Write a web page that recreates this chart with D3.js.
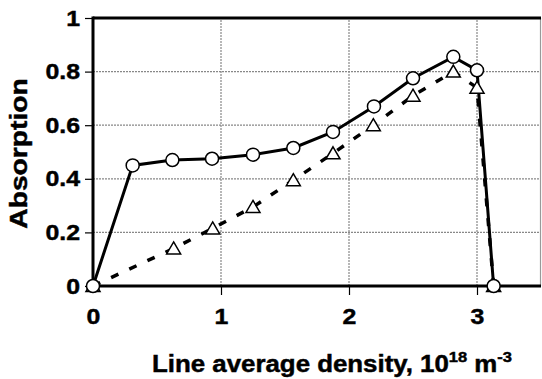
<!DOCTYPE html>
<html>
<head>
<meta charset="utf-8">
<script src="https://cdn.jsdelivr.net/npm/d3@7"></script>
<style>
  html, body { margin: 0; padding: 0; background: #fff; }
  svg { display: block; }
  text { font-family: "Liberation Sans", Arial, sans-serif; font-weight: bold; fill: #000; stroke: #000; stroke-width: 0.45px; }
</style>
</head>
<body>
<svg id="chart" width="542" height="379"></svg>
<script>
// Absorption versus line average density (two measurement series)
const densityCircle    = [0, 0.31, 0.62, 0.93, 1.25, 1.565, 1.875, 2.195, 2.5, 2.815, 3.0, 3.13];
const absorptionCircle = [0, 0.45, 0.47, 0.475, 0.49, 0.515, 0.575, 0.67, 0.775, 0.855, 0.805, 0];

const densityTriangle    = [0, 0.63, 0.935, 1.25, 1.565, 1.875, 2.19, 2.5, 2.815, 3.0, 3.13];
const absorptionTriangle = [0, 0.14, 0.215, 0.295, 0.395, 0.495, 0.6, 0.71, 0.8, 0.74, 0];

const xTicks = [0, 1, 2, 3];
const yTicks = [0, 0.2, 0.4, 0.6, 0.8, 1];
const yTickLabels = ["0", "0.2", "0.4", "0.6", "0.8", "1"];

const W = 542, H = 379;
const margin = { top: 18, right: 1, bottom: 93, left: 93 };
const labelStretch = 1.13;

const svg = d3.select("#chart");
const x = d3.scaleLinear().domain([0, 3.5]).range([margin.left, W - margin.right]);
const y = d3.scaleLinear().domain([0, 1]).range([H - margin.bottom, margin.top]);

// grid
const grid = svg.append("g");
grid.selectAll("line.h").data(yTicks.filter(v => v > 0 && v < 1)).join("line")
  .attr("x1", x(0)).attr("x2", x(3.5))
  .attr("y1", d => y(d)).attr("y2", d => y(d))
  .attr("stroke", "#888").attr("stroke-width", 1.2).attr("stroke-dasharray", "2,1");
grid.selectAll("line.v").data(xTicks.filter(v => v > 0)).join("line")
  .attr("x1", d => x(d)).attr("x2", d => x(d))
  .attr("y1", y(0)).attr("y2", y(1))
  .attr("stroke", "#888").attr("stroke-width", 1.2).attr("stroke-dasharray", "2,1");

// right frame edge
svg.append("line")
  .attr("x1", x(3.5) - 0.5).attr("x2", x(3.5) - 0.5)
  .attr("y1", y(0)).attr("y2", y(1))
  .attr("stroke", "#999").attr("stroke-width", 1.2);

// axes
const xAxis = d3.axisBottom(x).tickValues(xTicks).tickSize(9).tickPadding(13).tickFormat(d3.format("d"));
const yAxis = d3.axisLeft(y).tickValues(yTicks).tickSize(8).tickPadding(5).tickFormat((d, i) => yTickLabels[i]);

const gx = svg.append("g").attr("transform", `translate(0,${y(0)})`).call(xAxis);
const gy = svg.append("g").attr("transform", `translate(${x(0)},0)`).call(yAxis);
[gx, gy].forEach(g => {
  g.select(".domain").remove();
  g.selectAll(".tick line").attr("stroke", "#000").attr("stroke-width", 1.2);
  g.selectAll(".tick text")
    .style("font-size", "22px")
    .style("font-family", "'Liberation Sans', Arial, sans-serif")
    .style("font-weight", "bold");
});
// widen tick labels horizontally, keeping their anchor positions
gy.selectAll(".tick text").attr("x", -13 / labelStretch).attr("transform", `scale(${labelStretch},1)`);
gx.selectAll(".tick text").attr("transform", `scale(${labelStretch},1)`);
gx.selectAll(".tick").filter(d => d === 0).select("line").remove();

// thick frame lines: left, top, bottom
svg.append("line").attr("x1", x(0)).attr("x2", x(0)).attr("y1", y(1) - 1.5).attr("y2", y(0) + 1.5)
  .attr("stroke", "#000").attr("stroke-width", 3);
svg.append("line").attr("x1", x(0)).attr("x2", x(3.5)).attr("y1", y(1)).attr("y2", y(1))
  .attr("stroke", "#000").attr("stroke-width", 3);
svg.append("line").attr("x1", x(0)).attr("x2", x(3.5)).attr("y1", y(0)).attr("y2", y(0))
  .attr("stroke", "#000").attr("stroke-width", 3);

// series lines
const line = d3.line().x(d => x(d[0])).y(d => y(d[1]));
const triData = densityTriangle.map((d, i) => [d, absorptionTriangle[i]]);
const cirData = densityCircle.map((d, i) => [d, absorptionCircle[i]]);

svg.append("path").datum(triData).attr("d", line)
  .attr("fill", "none").attr("stroke", "#000").attr("stroke-width", 3.5)
  .attr("stroke-dasharray", "8,12");
svg.append("path").datum(cirData).attr("d", line)
  .attr("fill", "none").attr("stroke", "#000").attr("stroke-width", 3);

// markers
const triPath = "M0,-6.5L7,5.5L-7,5.5Z";
svg.append("g").selectAll("path").data(triData).join("path")
  .attr("transform", d => `translate(${x(d[0])},${y(d[1])})`)
  .attr("d", triPath)
  .attr("fill", "#fff").attr("stroke", "#000").attr("stroke-width", 1.5);
svg.append("g").selectAll("circle").data(cirData).join("circle")
  .attr("cx", d => x(d[0])).attr("cy", d => y(d[1])).attr("r", 6.5)
  .attr("fill", "#fff").attr("stroke", "#000").attr("stroke-width", 1.5);

// axis titles
const xt = svg.append("text")
  .attr("transform", "translate(332,372) scale(1.1,1)")
  .attr("text-anchor", "middle").style("font-size", "23.5px");
xt.append("tspan").text("Line average density, 10");
xt.append("tspan").attr("dy", -10).style("font-size", "15px").text("18");
xt.append("tspan").attr("dy", 10).text(" m");
xt.append("tspan").attr("dy", -10).style("font-size", "15px").text("-3");

svg.append("text")
  .attr("transform", `translate(27,${(y(0) + y(1)) / 2 + 1.5}) rotate(-90) scale(1.2,1)`)
  .attr("text-anchor", "middle").style("font-size", "23.5px")
  .text("Absorption");
</script>
</body>
</html>
